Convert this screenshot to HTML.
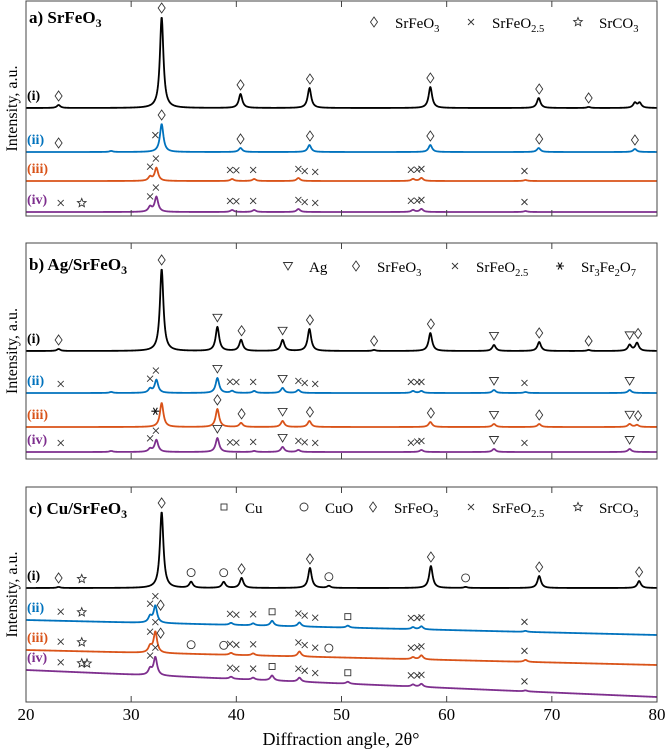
<!DOCTYPE html>
<html><head><meta charset="utf-8"><style>
html,body{margin:0;padding:0;background:#fff}
svg{display:block;font-family:"Liberation Serif",serif}
</style></head><body>
<svg id="chart" width="666" height="751" viewBox="0 0 666 751" xmlns="http://www.w3.org/2000/svg"></svg>
<script>
// ---- data ----
const xTicks = [20,30,40,50,60,70,80];
const panelTitles = ["a) SrFeO", "b) Ag/SrFeO", "c) Cu/SrFeO"];
const traceLabels = ["(i)","(ii)","(iii)","(iv)"];
const baseA = [[108,108],[152,152],[181,181],[212,212]];
const baseB = [[351,351],[393,393],[427,427],[452,452]];
const baseC = [[588,588],[620,635],[650,665],[670,697]];
const peaksA = [
 [[23.1,3],[32.9,91],[40.4,14],[46.95,20],[58.45,21],[68.75,10],[73.5,1],[77.9,5],[78.35,5]],
 [[28.1,1],[32.9,28],[40.4,4],[46.95,7],[58.45,7],[68.75,4],[77.9,3]],
 [[31.8,4],[32.4,13],[39.6,2],[41.7,2],[45.9,3],[56.8,2],[57.6,3],[67.5,1]],
 [[31.8,5],[32.4,15],[39.6,2],[41.7,2],[45.9,3],[56.8,2],[57.6,3],[67.5,1]]
];
const peaksB = [
 [[23.1,2],[32.9,82],[38.2,24],[40.45,11],[44.4,11],[46.95,22],[53.1,1],[58.45,18],[64.5,6],[68.8,9],[73.5,1],[77.4,6],[78.1,8]],
 [[28.1,1],[31.8,4],[32.4,13],[38.2,15],[39.6,2],[41.7,2],[44.4,5],[45.9,3],[56.8,2],[57.6,2],[64.5,3],[67.5,1],[77.4,3]],
 [[32.9,24],[38.2,18],[40.45,4],[44.4,6],[46.95,6],[58.45,5],[64.5,3],[68.8,3],[77.4,3],[78.1,2]],
 [[28.1,1],[31.8,3],[32.4,12],[38.2,14],[41.7,1],[44.4,5],[45.9,2],[57.6,2],[64.5,3],[77.4,3]]
];
const peaksC = [
 [[23.1,1],[32.9,76],[35.7,6],[38.8,6],[40.5,10],[47.0,20],[48.8,2],[58.5,22],[61.8,1],[68.8,12],[78.3,7]],
 [[31.8,6],[32.3,17],[39.5,2],[41.6,2],[43.4,5],[46.0,4],[50.6,2],[56.8,2],[57.6,3],[67.5,1]],
 [[31.8,6],[32.3,21],[39.5,2],[41.6,2],[46.0,5],[56.8,2],[57.6,4],[67.5,2]],
 [[31.8,6],[32.3,18],[39.5,2],[41.6,2],[43.4,5],[46.0,4],[50.6,2],[56.8,2],[57.6,3],[67.5,1]]
];
const markA = [
 [['d',23.1],['d',32.9],['d',40.4],['d',47.0],['d',58.45],['d',68.8],['d',73.5]],
 [['d',23.1],['x',32.3],['d',32.9],['d',40.4],['d',47.0],['d',58.45],['d',68.8],['d',77.9]],
 [['x',31.8],['x',32.35],['x',39.4],['x',40.0],['x',41.6],['x',45.9],['x',46.5],['x',47.5],['x',56.6],['x',57.2],['x',57.6],['x',67.4]],
 [['x',23.3],['s',25.3],['x',31.8],['x',32.35],['x',39.4],['x',40.0],['x',41.6],['x',45.9],['x',46.5],['x',47.5],['x',56.6],['x',57.2],['x',57.6],['x',67.4]]
];
const markB = [
 [['d',23.1],['d',32.9],['t',38.2],['d',40.5],['t',44.4],['d',47.0],['d',53.1],['d',58.5],['t',64.5],['d',68.8],['d',73.5],['t',77.4],['d',78.2]],
 [['x',23.3],['x',31.8],['x',32.35],['t',38.2],['x',39.4],['x',40.0],['x',41.6],['t',44.4],['x',45.9],['x',46.5],['x',47.5],['x',56.6],['x',57.2],['x',57.6],['t',64.5],['x',67.4],['t',77.4]],
 [['a',32.3],['d',38.2],['d',40.5],['t',44.4],['d',47.0],['d',58.5],['t',64.5],['d',68.8],['t',77.4],['d',78.2]],
 [['x',23.3],['x',31.8],['x',32.35],['t',38.2],['x',39.4],['x',40.0],['x',41.6],['t',44.4],['x',45.9],['x',46.5],['x',47.5],['x',56.6],['x',57.2],['x',57.6],['t',64.5],['x',67.4],['t',77.4]]
];
const markC = [
 [['d',23.1],['s',25.3],['d',32.9],['o',35.7],['o',38.8],['d',40.5],['d',47.0],['o',48.8],['d',58.5],['o',61.8],['d',68.8],['d',78.3]],
 [['x',23.3],['s',25.3],['x',31.8],['x',32.3],['d',32.8],['x',39.4],['x',40.0],['x',41.6],['q',43.4],['x',45.9],['x',46.5],['x',47.5],['q',50.6],['x',56.6],['x',57.2],['x',57.6],['x',67.4]],
 [['x',23.3],['s',25.3],['x',31.8],['x',32.3],['d',32.8],['o',35.7],['o',38.8],['x',39.4],['x',40.0],['x',41.6],['x',45.9],['x',46.5],['x',47.5],['o',48.8],['x',56.6],['x',57.2],['x',57.6],['x',67.4]],
 [['x',23.3],['s',25.3],['s',25.8],['x',31.8],['x',32.3],['x',39.4],['x',40.0],['x',41.6],['q',43.4],['x',45.9],['x',46.5],['x',47.5],['q',50.6],['x',56.6],['x',57.2],['x',57.6],['x',67.4]]
];
const legendA = [['d',"SrFeO","3",""],['x',"SrFeO","2.5",""],['s',"SrCO","3",""]];
const legendB = [['t',"Ag","",""],['d',"SrFeO","3",""],['x',"SrFeO","2.5",""],['a',"Sr","3","Fe"]];
const legendC = [['q',"Cu","",""],['o',"CuO","",""],['d',"SrFeO","3",""],['x',"SrFeO","2.5",""],['s',"SrCO","3",""]];

// ---- drawing ----
const svg = document.getElementById('chart');
const NS = 'http://www.w3.org/2000/svg';
const colors = ['#000000','#0072BD','#D95319','#7E2F8E'];
const X0=26, X1=657;
function xs(t){ return X0 + (t-20)/(80-20)*(X1-X0); }
function mk(tag, attrs, parent){ const e=document.createElementNS(NS,tag); for(const k in attrs) e.setAttribute(k,attrs[k]); (parent||svg).appendChild(e); return e; }

function traceY(base, peaks, t){
  let y = base[0] + (base[1]-base[0])*(t-20)/60;
  for(const [p,h] of peaks){ const g=0.2; const d=(t-p)/g; y -= h/(1+d*d); }
  return y;
}
function drawSymbol(g, s, cx, cy){
  const st={fill:'none',stroke:'#333','stroke-width':0.9};
  if(s==='d') mk('path',Object.assign({d:`M${cx} ${cy-5}L${cx+3.5} ${cy}L${cx} ${cy+5}L${cx-3.5} ${cy}Z`},st),g);
  else if(s==='x') mk('path',Object.assign({d:`M${cx-3} ${cy-3}L${cx+3} ${cy+3}M${cx+3} ${cy-3}L${cx-3} ${cy+3}`},st),g);
  else if(s==='t') mk('path',Object.assign({d:`M${cx-4.5} ${cy-3.5}L${cx+4.5} ${cy-3.5}L${cx} ${cy+4}Z`},st),g);
  else if(s==='o') mk('circle',Object.assign({cx:cx,cy:cy,r:4},st),g);
  else if(s==='q') mk('rect',Object.assign({x:cx-3,y:cy-3,width:6,height:6},st),g);
  else if(s==='s'){ let d=''; for(let i=0;i<10;i++){const r=i%2?2:4.5;const a=-Math.PI/2+i*Math.PI/5; d+=(i?'L':'M')+(cx+r*Math.cos(a)).toFixed(2)+' '+(cy+r*Math.sin(a)).toFixed(2);} mk('path',Object.assign({d:d+'Z'},st),g); }
  else if(s==='a'){ mk('path',Object.assign({d:`M${cx-4} ${cy}L${cx+4} ${cy}M${cx-2} ${cy-3.5}L${cx+2} ${cy+3.5}M${cx+2} ${cy-3.5}L${cx-2} ${cy+3.5}`},st,{stroke:'#111','stroke-width':1.1}),g); }
}
function sub(textEl, main, s, extra){
  const t1=mk('tspan',{},textEl); t1.textContent=main;
  if(s){ const t2=mk('tspan',{'font-size':'0.7em',dy:4},textEl); t2.textContent=s; }
  if(extra){ const t3=mk('tspan',{dy:-4},textEl); t3.textContent=extra;
    const t4=mk('tspan',{'font-size':'0.7em',dy:4},textEl); t4.textContent='2';
    const t5=mk('tspan',{dy:-4},textEl); t5.textContent='O';
    const t6=mk('tspan',{'font-size':'0.7em',dy:4},textEl); t6.textContent='7'; }
}

const panels = [
 {top:1,bottom:216,base:baseA,peaks:peaksA,marks:markA,legend:legendA,legX:[374,471,578],legY:23,name:'panel-a'},
 {top:243,bottom:459,base:baseB,peaks:peaksB,marks:markB,legend:legendB,legX:[288,356,455,560],legY:267,name:'panel-b'},
 {top:487,bottom:702,base:baseC,peaks:peaksC,marks:markC,legend:legendC,legX:[224,304,373,471,578],legY:508,name:'panel-c'}
];
panels.forEach((P,pi)=>{
  const g=mk('g',{});
  
  
  P.base.forEach((b,ti)=>{
    let d='';
    for(let t=20;t<=80.0001;t+=0.04){ d+=(d?'L':'M')+xs(t).toFixed(2)+' '+traceY(b,P.peaks[ti],t).toFixed(2); }
    const path=mk('path',{d:d,fill:'none',stroke:colors[ti],'stroke-width':1.8,'stroke-linejoin':'round'},g);
    
    
    const lb=mk('text',{x:27,y:b[0]-8,fill:colors[ti],'font-size':14,'font-weight':'bold'},g);
    lb.textContent=traceLabels[ti];
    
    
    const mg=mk('g',{},g);
    
    
    P.marks[ti].forEach(([s,t])=>{
      let m=1e9; for(let u=t-0.3;u<=t+0.3;u+=0.02) m=Math.min(m,traceY(b,P.peaks[ti],u));
      drawSymbol(mg,s,xs(t),m-9);
    });
  });
  const fr=mk('rect',{x:X0,y:P.top,width:X1-X0,height:P.bottom-P.top,fill:'none',stroke:'#444','stroke-width':1},g);
  
  
  xTicks.forEach(v=>{ const x=xs(v);
    mk('line',{x1:x,x2:x,y1:P.top,y2:P.top+6,stroke:'#444'},g);
    mk('line',{x1:x,x2:x,y1:P.bottom,y2:P.bottom-6,stroke:'#444'},g);
  });
  const tt=mk('text',{x:29,y:P.top+ (pi===0?22:27),'font-size':17,'font-weight':'bold'},g);
  sub(tt,panelTitles[pi],'3','');
  
  
  const lg=mk('g',{},g);
  
  
  P.legend.forEach((L,li)=>{
    const x=P.legX[li];
    drawSymbol(lg,L[0],x,P.legY-1);
    const tx=mk('text',{x:x+21,y:P.legY+5,'font-size':15},lg);
    sub(tx,L[1],L[2],L[3]);
  });
  const cy=(P.top+P.bottom)/2;
  const yl=mk('text',{x:0,y:0,'font-size':16,'text-anchor':'middle',transform:`translate(17 ${cy}) rotate(-90)`},g);
  yl.textContent='Intensity, a.u.';
  
  
});
xTicks.forEach(v=>{
  const t=mk('text',{x:xs(v),y:720,'font-size':17,'text-anchor':'middle'});
  t.textContent=String(v);
  
  
});
const xt=mk('text',{x:341,y:745,'font-size':18,'text-anchor':'middle'});
xt.textContent='Diffraction angle, 2θ°';


</script>
</body></html>
